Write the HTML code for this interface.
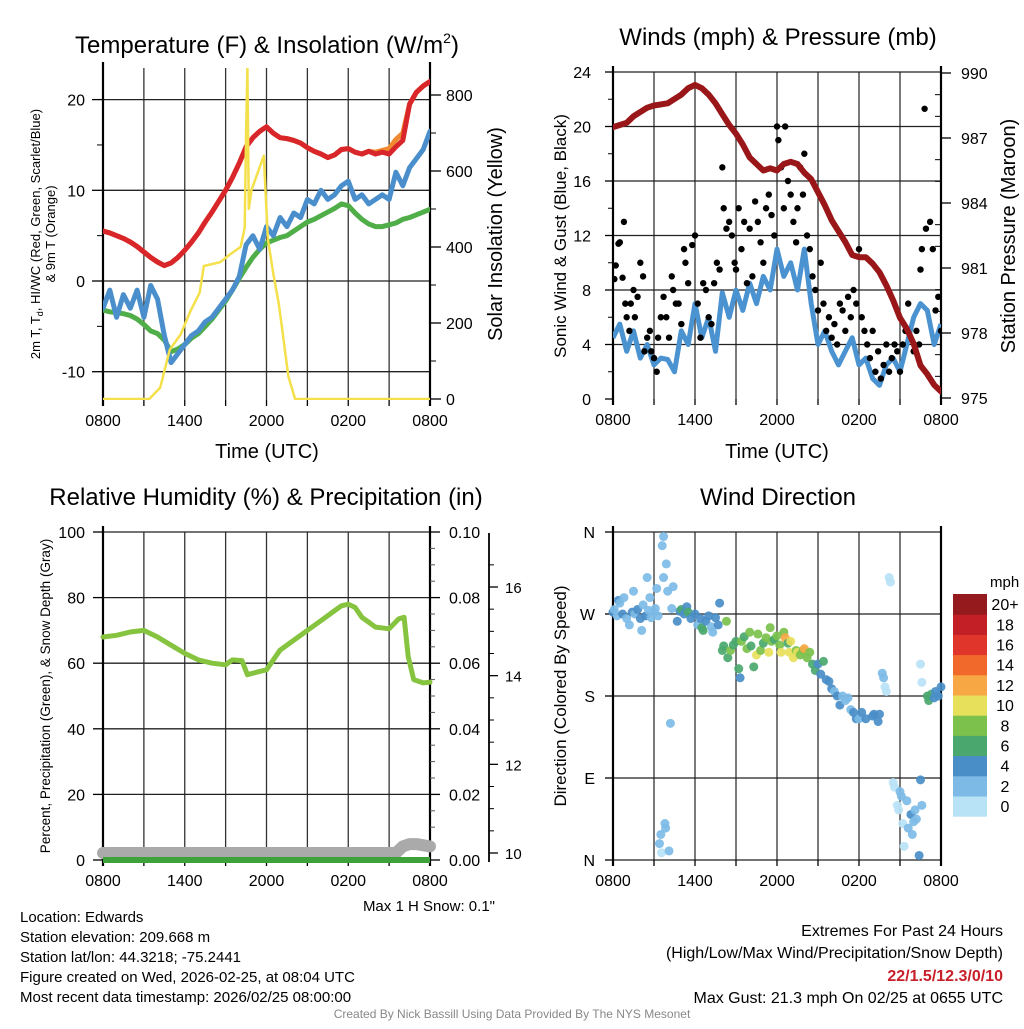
<!DOCTYPE html>
<html><head><meta charset="utf-8"><style>
body{margin:0;background:#fff;width:1024px;height:1024px;overflow:hidden;font-family:"Liberation Sans",Arial,sans-serif}
svg text{font-family:"Liberation Sans",Arial,sans-serif;fill:#000}
</style></head><body>
<svg id="c" width="1024" height="1024" viewBox="0 0 1024 1024" xmlns="http://www.w3.org/2000/svg">
<text x="267" y="53" font-size="24" text-anchor="middle">Temperature (F) &amp; Insolation (W/m<tspan font-size="14" dy="-10">2</tspan><tspan dy="10">)</tspan></text>
<text x="778" y="45" font-size="24" text-anchor="middle">Winds (mph) &amp; Pressure (mb)</text>
<text x="266" y="505" font-size="24" text-anchor="middle">Relative Humidity (%) &amp; Precipitation (in)</text>
<text x="778" y="505" font-size="24" text-anchor="middle">Wind Direction</text>
<text x="267" y="458" font-size="20" text-anchor="middle">Time (UTC)</text>
<text x="777" y="458" font-size="20" text-anchor="middle">Time (UTC)</text>
<text transform="translate(40,234) rotate(-90)" font-size="13" text-anchor="middle">2m T, T<tspan font-size="9" dy="3">d</tspan><tspan dy="-3">, HI/WC (Red, Green, Scarlet/Blue)</tspan></text>
<text transform="translate(55,234) rotate(-90)" font-size="13" text-anchor="middle">&amp; 9m T (Orange)</text>
<text transform="translate(502,234) rotate(-90)" font-size="20" text-anchor="middle">Solar Insolation (Yellow)</text>
<text transform="translate(566,236) rotate(-90)" font-size="17" text-anchor="middle">Sonic Wind &amp; Gust (Blue, Black)</text>
<text transform="translate(1015,236) rotate(-90)" font-size="20" text-anchor="middle">Station Pressure (Maroon)</text>
<text transform="translate(50,696) rotate(-90)" font-size="13.5" text-anchor="middle">Percent, Precipitation (Green), &amp; Snow Depth (Gray)</text>
<text transform="translate(566,696) rotate(-90)" font-size="17" text-anchor="middle">Direction (Colored By Speed)</text>
<text x="495" y="911" font-size="15" text-anchor="end" fill="#222">Max 1 H Snow: 0.1"</text>
<g font-size="15">
<text x="20" y="922">Location: Edwards</text>
<text x="20" y="942">Station elevation: 209.668 m</text>
<text x="20" y="962">Station lat/lon: 44.3218; -75.2441</text>
<text x="20" y="982">Figure created on Wed, 2026-02-25, at 08:04 UTC</text>
<text x="20" y="1002">Most recent data timestamp: 2026/02/25 08:00:00</text>
</g>
<g font-size="16" text-anchor="end">
<text x="1003" y="936">Extremes For Past 24 Hours</text>
<text x="1003" y="958">(High/Low/Max Wind/Precipitation/Snow Depth)</text>
<text x="1003" y="981" font-weight="bold" style="fill:#c8202a">22/1.5/12.3/0/10</text>
<text x="1003" y="1003">Max Gust: 21.3 mph On 02/25 at 0655 UTC</text>
</g>
<text x="512" y="1018" font-size="12" text-anchor="middle" style="fill:#888">Created By Nick Bassill Using Data Provided By The NYS Mesonet</text>
</svg>
<script>
// ---------- data ----------
const halfHours = Array.from({length:49},(_, i)=>i*0.5);
const xTickLabels = ["0800","1400","2000","0200","0800"];
const tempTicks = [-10,0,10,20];
const solarTicks = [0,200,400,600,800];
const tempRed = [5.5,5.3,5.0,4.7,4.3,3.8,3.2,2.6,2.1,1.7,2.0,2.6,3.4,4.3,5.3,6.5,7.6,8.8,10.0,11.4,13.0,14.8,15.8,16.5,17.0,16.3,15.8,15.7,15.5,15.2,14.7,14.3,14.0,13.6,13.9,14.5,14.6,14.2,14.0,14.3,14.0,14.2,14.0,14.8,15.5,19.5,20.8,21.5,22.0];
const temp9m = [5.5,5.3,5.0,4.7,4.3,3.8,3.2,2.6,2.1,1.7,2.0,2.6,3.4,4.3,5.3,6.5,7.6,8.8,10.0,11.4,13.0,14.8,15.8,16.5,17.0,16.3,15.8,15.7,15.5,15.2,14.7,14.3,14.0,13.6,13.9,14.5,14.6,14.2,14.0,14.3,14.2,14.4,14.6,15.6,16.3,19.5,20.8,21.5,22.0];
const dewpoint = [-3.2,-3.4,-3.5,-3.6,-3.8,-4.2,-4.8,-5.5,-5.8,-6.5,-7.8,-7.5,-7.0,-6.3,-5.8,-5.0,-4.2,-3.2,-2.2,-1.0,0.3,1.5,2.6,3.5,4.2,4.5,4.8,5.0,5.5,6.0,6.5,6.8,7.2,7.6,8.0,8.5,8.3,7.5,6.8,6.3,6.0,6.0,6.2,6.4,6.8,7.0,7.3,7.6,7.9];
const windChill = [-3,-1,-4,-1.5,-3,-1,-4,-0.5,-2,-6,-9,-8,-7,-6,-5.5,-4.5,-4,-3,-2,-1,0.5,4,5,3.5,6,5,7,6,7.5,7,9,8.5,10,9,9.5,10.5,11,9,9.5,8.5,9,9.5,9,12,10.5,12.5,13.5,14.5,16.5];
const solarTimes = [0,3.4,4.2,4.9,5.7,6.4,7.1,7.4,8.6,9.3,10.1,10.4,10.5,10.6,10.7,10.9,11.4,11.8,12.1,12.5,12.9,13.2,13.6,14.1,24];
const solarVals = [0,0,30,130,170,230,280,350,360,380,400,450,700,870,500,550,600,640,420,330,250,170,60,0,0];

const windTicks = [0,4,8,12,16,20,24];
const pressTicks = [975,978,981,984,987,990];
const pressure = [987.5,987.6,987.7,988.0,988.2,988.4,988.5,988.55,988.6,988.8,989.0,989.3,989.45,989.3,989.0,988.6,988.1,987.6,987.2,986.7,986.1,985.8,985.5,985.6,985.5,985.8,985.9,985.8,985.4,985.1,984.5,983.9,983.2,982.7,982.2,981.6,981.5,981.5,981.2,980.8,980.2,979.5,978.7,978.2,977.5,976.5,976.1,975.6,975.3];
const windSpeed = [4.5,5.5,3.5,5,3,4,2.5,3,2.9,2,5,4,7,4.5,6,3.5,7.8,6,8,6.5,8.5,7,9,8,11,9,10,8,11,7,4,5,3.5,2.5,3.5,4.5,2.5,3,1.5,1,2.5,3,2,4,6,7,6.5,4,5.5];
const gustTimes = [0.1,0.2,0.4,0.5,0.7,0.8,0.9,1.0,1.2,1.3,1.5,1.6,1.8,2.0,2.2,2.3,2.5,2.7,2.8,3.0,3.2,3.3,3.5,3.7,3.9,4.1,4.3,4.4,4.6,4.8,5.0,5.2,5.3,5.5,5.8,6.0,6.2,6.4,6.6,6.8,7.0,7.2,7.4,7.6,7.8,8.0,8.1,8.3,8.5,8.7,8.9,9.0,9.2,9.4,9.6,9.8,10.0,10.2,10.4,10.6,10.8,11.0,11.2,11.4,11.6,11.8,12.0,12.1,12.3,12.5,12.6,12.8,13.0,13.2,13.4,13.5,13.7,13.9,14.0,14.2,14.4,14.6,14.8,15.0,15.2,15.4,15.6,15.8,16.0,16.2,16.4,16.6,16.8,17.0,17.2,17.4,17.6,17.8,18.0,18.2,18.4,18.6,18.8,19.0,19.2,19.4,19.6,19.8,20.0,20.2,20.4,20.6,20.8,21.0,21.2,21.4,21.6,22.0,22.2,22.4,22.5,22.6,22.8,22.9,23.2,23.4,23.6,23.8,24.0];
const gustVals = [8.8,9.8,11.4,11.5,8.9,13,7,6,5,7,8,6,7.5,10,9,3.5,4.5,5,3.5,3,2,4.5,6,7.5,6,4.5,9,8,7,7,5.5,11,10,8.5,11.3,12,7,4.5,8.5,8,6,5.5,8.5,10,9.5,17,14,12.5,13,12,10,9.5,14,11,13,8.5,12.5,9,14.5,13,11.5,10,14,15,13.5,12,20,19,17,14,20,16,15,13,11.5,14,17,15,18,12,11,9,8,6.5,10,7,5,6,4.5,5.5,4,7,6.5,5,7.5,6,8,7,11,6,5,4,3,5,2,3.5,1.5,2.5,4,2,3,4,3.5,2,4,5,7,3.5,5,4,9.5,11,21.3,12.5,13,11,6.5,7.5,5,8];

const rhTicks = [0,20,40,60,80,100];
const precipTicks = ["0.00","0.02","0.04","0.06","0.08","0.10"];
const snowTicks = [10,12,14,16];
const rhTimes = [0,1,2,3,4,5,6,7,8,9,9.5,10.2,10.6,11.5,12,12.5,13,14,15,16,17,17.5,18,18.5,19,19.5,20,21,21.7,22.1,22.4,22.8,23.5,24];
const rhVals = [68,68.5,69.5,70,68,65.5,63,61,60,59.5,61,60.8,56.5,57.5,58,61,64,67,70,73,76,77.5,78,77,74,72.5,71,70.5,73.5,74,62,55,54,54.2];
const snowTimes = [0,21.5,22,22.5,23,24];
const snowVals = [10,10,10.15,10.2,10.2,10.15];
const precipTimes = [0,24];
const precipVals = [0,0];

const dirLabels = ["N","E","S","W","N"];
const dirTimes = [0.0,0.1,0.3,0.4,0.5,0.7,0.8,1.0,1.2,1.4,1.5,1.6,1.8,2.0,2.1,2.2,2.4,2.5,2.6,2.7,2.8,3.0,3.1,3.2,3.3,3.4,3.5,3.55,3.6,3.7,3.7,3.8,3.85,3.9,4.0,4.1,4.2,4.3,4.4,4.7,4.9,5.0,5.2,5.4,5.5,5.7,6.0,6.2,6.4,6.5,6.6,6.8,7.0,7.2,7.3,7.5,7.7,7.8,8.0,8.1,8.3,8.4,8.6,8.8,9.0,9.2,9.3,9.4,9.6,9.8,10.0,10.1,10.3,10.5,10.6,10.8,11.0,11.2,11.4,11.5,11.6,11.8,12.0,12.2,12.3,12.5,12.6,12.8,12.9,13.0,13.2,13.4,13.5,13.7,13.9,14.0,14.2,14.4,14.6,14.8,15.0,15.2,15.4,15.6,15.8,16.0,16.2,16.4,16.6,16.8,17.0,17.2,17.4,17.6,17.8,18.0,18.2,18.5,19.0,19.1,19.4,19.5,19.7,19.8,19.9,20.0,20.2,20.3,20.5,20.6,20.8,20.9,21.0,21.1,21.2,21.3,21.5,21.6,21.8,21.9,22.0,22.1,22.2,22.4,22.5,22.6,22.5,22.6,23.0,23.1,23.3,23.5,23.6,23.8,24.0];
const dirVals = [272,275,268,285,282,270,288,265,258,272,295,270,275,265,252,280,268,310,274,288,266,272,276,298,268,18,28,8,345,355,310,40,35,325,295,10,150,276,300,262,273,275,270,278,272,265,270,258,265,255,252,262,268,256,250,266,258,282,230,235,262,222,230,236,240,210,200,240,245,232,250,235,212,225,248,230,238,244,228,255,240,242,246,236,228,250,244,238,228,240,222,230,228,225,230,232,222,228,215,208,215,204,218,198,196,188,185,180,170,180,175,178,165,162,155,155,162,155,158,160,152,160,205,200,190,185,310,305,85,80,60,55,75,70,40,15,65,35,50,28,42,55,45,5,88,60,215,195,180,175,182,178,185,180,190];
const dirSpeeds = [4,3,2,4,3,5,2,2,2,4,2,3,4,4,2,2,5,2,3,2,3,2,3,2,2,2,2,1,2,2,2,2,2,2,2,2,2,2,2,4,4,6,4,5,7,4,4,3,4,6,6,4,4,2,3,4,4,4,6,7,8,6,8,7,6,6,4,8,6,8,8,6,6,10,8,8,6,8,10,8,8,6,8,8,10,8,12,6,10,10,10,8,10,8,8,12,8,8,6,6,4,4,6,4,4,4,2,4,4,2,2,2,2,4,4,2,4,4,4,4,4,4,2,2,0,0,0,0,0,0,0,0,2,2,0,0,2,2,4,2,2,2,2,4,4,2,0,0,6,6,6,4,4,4,4];
const speedColors = ["#b8e2f6","#7dbbe6","#4a8ec8","#4aa86e","#7bc14c","#e7e05a","#f7a845","#f26a2b","#e0352b","#c21f27","#951a1d"];
const speedLabels = ["0","2","4","6","8","10","12","14","16","18","20+"];

// ---------- helpers ----------
const svg = document.getElementById('c');
const NS = 'http://www.w3.org/2000/svg';
function mk(tag, attrs, parent){ const e=document.createElementNS(NS,tag); for(const k in attrs) e.setAttribute(k,attrs[k]); (parent||svg).appendChild(e); return e; }
function txt(x,y,s,size,anchor,parent){ const t=mk('text',{x:x,y:y,'font-size':size,'text-anchor':anchor},parent); t.textContent=s; return t; }
function xScale(x0,x1){ return h=>x0+(x1-x0)*h/24; }
function lin(d0,d1,r0,r1){ return v=>r0+(r1-r0)*(v-d0)/(d1-d0); }
function pathFrom(ts,vs,xs,ys){ return ts.map((t,i)=>(i?'L':'M')+xs(t).toFixed(1)+','+ys(vs[i]).toFixed(1)).join(''); }

function frame(name,L,T,R,B,hLines){
  const g=mk('g',{});
  
  
  const xs=xScale(L,R);
  for(let h=3;h<24;h+=3) mk('line',{x1:xs(h),x2:xs(h),y1:T,y2:B,stroke:'#333','stroke-width':1.3},g);
  hLines.forEach(y=>mk('line',{x1:L,x2:R,y1:y,y2:y,stroke:'#222','stroke-width':1.3},g));
  for(let h=0;h<=24;h+=3) mk('line',{x1:xs(h),x2:xs(h),y1:B,y2:B+6,stroke:'#000','stroke-width':1.3},g);
  mk('line',{x1:L,x2:L,y1:T-6,y2:B+6,stroke:'#000','stroke-width':2.2},g);
  mk('line',{x1:R,x2:R,y1:T-6,y2:B+6,stroke:'#000','stroke-width':2.2},g);
  xTickLabels.forEach((s,i)=>{ const t=txt(xs(i*6),B+26,s,16,'middle',g);
    
     });
  return xs;
}

// ---------- Panel 1: temperature ----------
(function(){
  const L=103,R=430,T=68,B=400;
  const ty=lin(0,10,281,190.3), sy=lin(0,800,399,95);
  const hl=tempTicks.map(ty);
  const xs=frame('temp',L,T,R,B,hl);
  tempTicks.forEach(v=>{ mk('line',{x1:L-11,x2:L,y1:ty(v),y2:ty(v),stroke:'#000','stroke-width':1.3});
    const t=txt(L-18,ty(v)+6,String(v),16,'end');
      });
  [-5,5,15].forEach(v=>mk('line',{x1:L-6,x2:L,y1:ty(v),y2:ty(v),stroke:'#000','stroke-width':1}));
  solarTicks.forEach(v=>{ mk('line',{x1:R,x2:R+11,y1:sy(v),y2:sy(v),stroke:'#000','stroke-width':1.3});
    const t=txt(R+16,sy(v)+6,String(v),16,'start');
      });
  [100,300,500,700].forEach(v=>mk('line',{x1:R,x2:R+6,y1:sy(v),y2:sy(v),stroke:'#000','stroke-width':1}));
  const clip=mk('clipPath',{id:'cp1'}); mk('rect',{x:L,y:T,width:R-L,height:B-T},clip);
  const g=mk('g',{'clip-path':'url(#cp1)'});
  let p;
  p=mk('path',{d:pathFrom(halfHours,dewpoint,xs,ty),fill:'none',stroke:'#4fae48','stroke-width':5,'stroke-linejoin':'round','stroke-linecap':'round'},g);
   
  p=mk('path',{d:pathFrom(halfHours,temp9m,xs,ty),fill:'none',stroke:'#f08a30','stroke-width':5,'stroke-linejoin':'round'},g);
   
  p=mk('path',{d:pathFrom(halfHours,tempRed,xs,ty),fill:'none',stroke:'#d8262a','stroke-width':5,'stroke-linejoin':'round','stroke-linecap':'round'},g);
   
  p=mk('path',{d:pathFrom(halfHours,windChill,xs,ty),fill:'none',stroke:'#4a8fcc','stroke-width':5,'stroke-linejoin':'round','stroke-linecap':'round'},g);
   
  p=mk('path',{d:pathFrom(solarTimes,solarVals,xs,sy),fill:'none',stroke:'#f4e04a','stroke-width':2.5,'stroke-linejoin':'round'},g);
   
})();

// ---------- Panel 2: winds ----------
(function(){
  const L=613,R=941,T=72,B=399;
  const wy=lin(0,24,399,72), py=lin(975,990,398,73);
  const xs=frame('wind',L,T,R,B,windTicks.slice(1,6).map(wy).concat([T]));
  windTicks.forEach(v=>{ mk('line',{x1:L-8,x2:L,y1:wy(v),y2:wy(v),stroke:'#000','stroke-width':1.3});
    const t=txt(L-22,wy(v)+6,String(v),16,'end');
      });
  for(let v=2;v<24;v+=4) mk('line',{x1:L-5,x2:L,y1:wy(v),y2:wy(v),stroke:'#000','stroke-width':1});
  pressTicks.forEach(v=>{ mk('line',{x1:R,x2:R+10,y1:py(v),y2:py(v),stroke:'#000','stroke-width':1.3});
    const t=txt(R+20,py(v)+6,String(v),16,'start');
      });
  for(let v=976;v<990;v++) if((v-975)%3) mk('line',{x1:R-6,x2:R,y1:py(v),y2:py(v),stroke:'#000','stroke-width':1});
  const clip=mk('clipPath',{id:'cp2'}); mk('rect',{x:L,y:T,width:R-L,height:B-T},clip);
  const g=mk('g',{'clip-path':'url(#cp2)'});
  let p=mk('path',{d:pathFrom(halfHours,windSpeed,xs,wy),fill:'none',stroke:'#4a93d0','stroke-width':5,'stroke-linejoin':'round'},g);
   
  gustTimes.forEach((t,i)=>{ const c=mk('circle',{cx:xs(t),cy:wy(gustVals[i]),r:3.2,fill:'#000'},g);
      });
  p=mk('path',{d:pathFrom(halfHours,pressure,xs,py),fill:'none',stroke:'#9a1719','stroke-width':6,'stroke-linejoin':'round','stroke-linecap':'round'},g);
   
})();

// ---------- Panel 3: RH ----------
(function(){
  const L=103,R=430,T=532,B=860;
  const ry=lin(0,100,860,532), sny=lin(10,16,853,587);
  const xs=frame('rh',L,T,R,B,rhTicks.map(ry));
  rhTicks.forEach(v=>{ mk('line',{x1:L-10,x2:L,y1:ry(v),y2:ry(v),stroke:'#000','stroke-width':1.3});
    const t=txt(L-18,ry(v)+6,String(v),16,'end');
      });
  precipTicks.forEach((s,i)=>{ const y=ry(i*20); mk('line',{x1:R,x2:R+10,y1:y,y2:y,stroke:'#000','stroke-width':1.3});
    const t=txt(R+19,y+6,s,16,'start');
      });
  for(let v=5;v<100;v+=5) if(v%20) mk('line',{x1:R,x2:R+5,y1:ry(v),y2:ry(v),stroke:'#555','stroke-width':1});
  const ax=mk('line',{x1:489,x2:489,y1:533,y2:862,stroke:'#000','stroke-width':1.8});
   
  snowTicks.forEach(v=>{ mk('line',{x1:489,x2:498,y1:sny(v),y2:sny(v),stroke:'#000','stroke-width':1.3});
    const t=txt(505,sny(v)+6,String(v),15,'start');
      });
  for(let v=10.5;v<16.8;v+=0.5) if(v%2) mk('line',{x1:489,x2:494,y1:sny(v),y2:sny(v),stroke:'#000','stroke-width':1});
  let p=mk('path',{d:pathFrom(snowTimes,snowVals,xs,sny),fill:'none',stroke:'#aaa','stroke-width':12,'stroke-linejoin':'round','stroke-linecap':'round'});
   
  p=mk('path',{d:pathFrom(precipTimes,precipVals.map(v=>v*1000),xs,ry),fill:'none',stroke:'#3da23a','stroke-width':6});
   
  p=mk('path',{d:pathFrom(rhTimes,rhVals,xs,ry),fill:'none',stroke:'#86c440','stroke-width':5,'stroke-linejoin':'round','stroke-linecap':'round'});
   
})();

// ---------- Panel 4: wind direction ----------
(function(){
  const L=613,R=941,T=532,B=860;
  const dy=lin(0,360,860,532);
  const xs=frame('wdir',L,T,R,B,dirLabels.map((s,i)=>dy(i*90)));
  dirLabels.forEach((s,i)=>{ mk('line',{x1:L-8,x2:L,y1:dy(i*90),y2:dy(i*90),stroke:'#000','stroke-width':1.3});
    const t=txt(L-18,dy(i*90)+6,s,16,'end');
      });
  const g=mk('g',{});
  dirTimes.forEach((t,i)=>{ const bin=Math.min(10,Math.floor(dirSpeeds[i]/2));
    const c=mk('circle',{cx:xs(t),cy:dy(dirVals[i]),r:4.5,fill:speedColors[bin],'fill-opacity':0.92},g);
      });
  const lg=mk('g',{});
   
  txt(990,587,'mph',15,'start',lg);
  const h=20.2, top=594;
  for(let i=0;i<11;i++){ const y=top+(10-i)*h;
    const r=mk('rect',{x:953,y:y,width:34,height:h+0.5,fill:speedColors[i]},lg);
     
    txt(1005,y+h/2+6,speedLabels[i],16,'middle',lg); }
})();
</script>
</body></html>
